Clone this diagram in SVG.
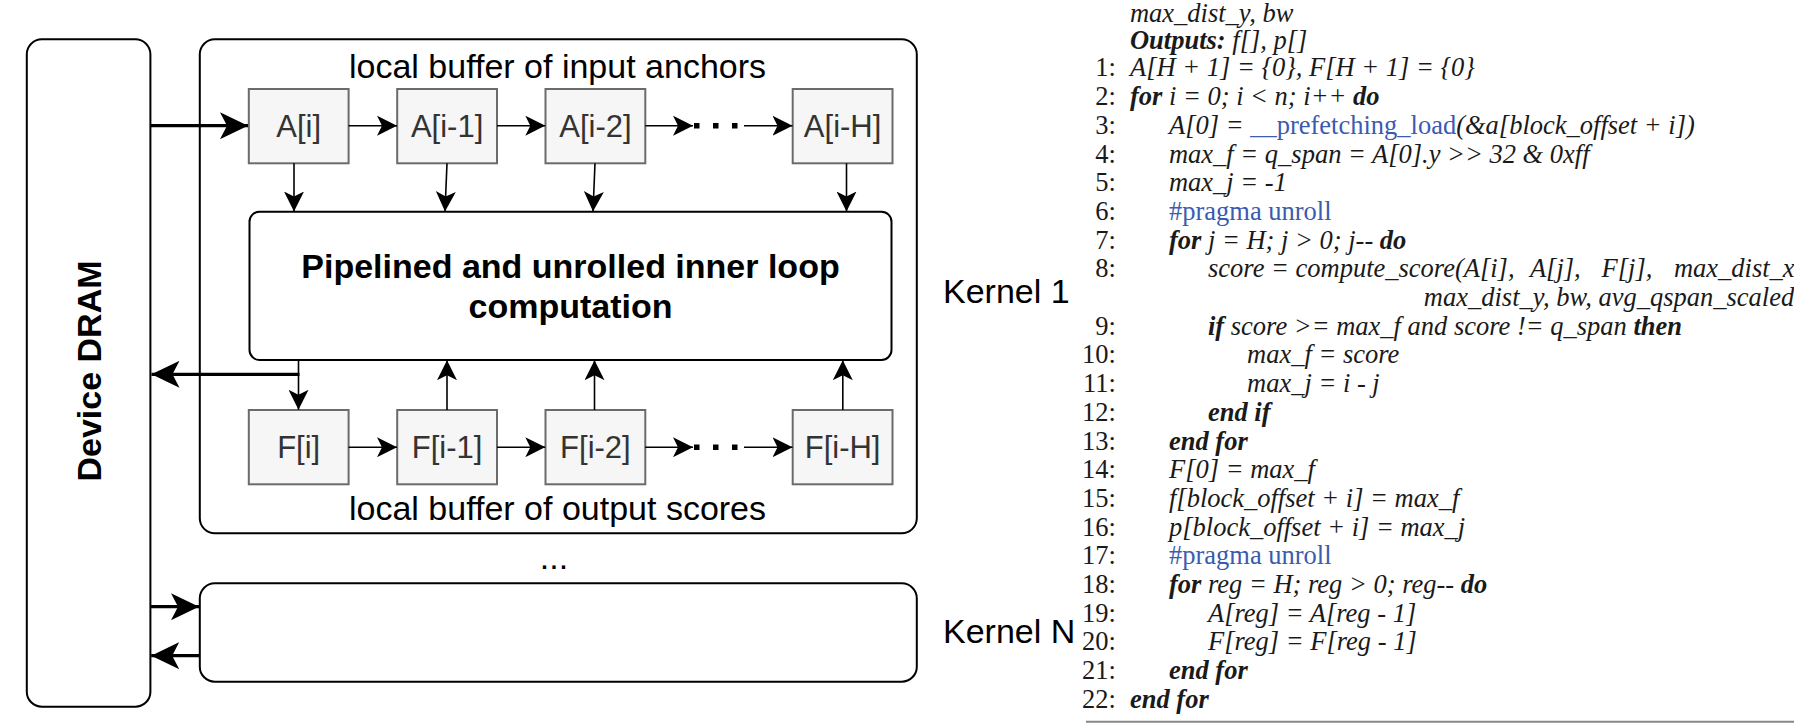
<svg xmlns="http://www.w3.org/2000/svg" width="1794" height="728" viewBox="0 0 1794 728">
<style>
.frame{fill:#fff;stroke:#000;stroke-width:2}
.cell{fill:#f5f6f5;stroke:#6b6b6b;stroke-width:2}
.lbl{font-family:"Liberation Sans",Arial,sans-serif;fill:#333;font-size:31px;text-anchor:middle}
.big{font-family:"Liberation Sans",Arial,sans-serif;fill:#000;font-size:34px}
.bold{font-weight:bold}
.thin{stroke:#000;stroke-width:1.6;fill:none}
.thick{stroke:#000;stroke-width:3.2;fill:none}
.alg{font-family:"Liberation Serif","Times New Roman",serif;font-size:27.5px;fill:#1a1a1a;font-style:italic}
.num{font-style:normal;text-anchor:end}
.kw{font-weight:bold}
.blue{fill:#3a5bb0;font-style:normal}
</style>
<defs>
<marker id="at" viewBox="0 0 20 20" refX="20" refY="10" markerWidth="20" markerHeight="20" orient="auto" markerUnits="userSpaceOnUse"><path d="M0,0 L20,10 L0,20 L5,10 z" fill="#000"/></marker>
<marker id="ak" viewBox="0 0 28 27" refX="28" refY="13.5" markerWidth="28" markerHeight="27" orient="auto" markerUnits="userSpaceOnUse"><path d="M0,0 L28,13.5 L0,27 L7,13.5 z" fill="#000"/></marker>
</defs>
<rect width="1794" height="728" fill="#fff"/>

<g id="dram">
<rect class="frame" x="26.8" y="39.3" width="123.6" height="667.4" rx="15"/>
<text class="big bold" transform="translate(100.5,371) rotate(-90)" text-anchor="middle">Device DRAM</text>
</g>

<g id="kernel1">
<rect class="frame" x="199.8" y="39.3" width="717" height="494" rx="15"/>
<text class="big" x="557.5" y="77.7" text-anchor="middle">local buffer of input anchors</text>
<text class="big" x="557.5" y="520" text-anchor="middle">local buffer of output scores</text>
</g>

<g id="compute">
<rect class="frame" x="249.5" y="211.7" width="642" height="148.3" rx="10"/>
<text class="big bold" x="570.5" y="278" text-anchor="middle">Pipelined and unrolled inner loop</text>
<text class="big bold" x="570.5" y="318" text-anchor="middle">computation</text>
</g>

<g id="A0"><rect class="cell" x="248.8" y="89" width="99.8" height="74.3"/><text class="lbl" x="298.7" y="137">A[i]</text></g>
<g id="A1"><rect class="cell" x="397.2" y="89" width="99.8" height="74.3"/><text class="lbl" x="447.1" y="137">A[i-1]</text></g>
<g id="A2"><rect class="cell" x="545.5" y="89" width="99.8" height="74.3"/><text class="lbl" x="595.4" y="137">A[i-2]</text></g>
<g id="AH"><rect class="cell" x="792.7" y="89" width="99.8" height="74.3"/><text class="lbl" x="842.6" y="137">A[i-H]</text></g>

<g id="F0"><rect class="cell" x="248.8" y="410" width="99.8" height="74.3"/><text class="lbl" x="298.7" y="458">F[i]</text></g>
<g id="F1"><rect class="cell" x="397.2" y="410" width="99.8" height="74.3"/><text class="lbl" x="447.1" y="458">F[i-1]</text></g>
<g id="F2"><rect class="cell" x="545.5" y="410" width="99.8" height="74.3"/><text class="lbl" x="595.4" y="458">F[i-2]</text></g>
<g id="FH"><rect class="cell" x="792.7" y="410" width="99.8" height="74.3"/><text class="lbl" x="842.6" y="458">F[i-H]</text></g>

<g id="kernelN">
<rect class="frame" x="199.8" y="583.3" width="717" height="98.4" rx="15"/>
</g>

<g id="labels">
<text class="big" x="943" y="303" font-size="33">Kernel 1</text>
<text class="big" x="943" y="643" font-size="33">Kernel N</text>
<text class="big" x="554" y="569" text-anchor="middle" font-size="30">...</text>
</g>

<g id="connectors">
<line class="thick" x1="150.4" y1="125.7" x2="248" y2="125.7" marker-end="url(#ak)"/>
<line class="thin" x1="348.6" y1="125.7" x2="397" y2="125.7" marker-end="url(#at)"/>
<line class="thin" x1="497" y1="125.7" x2="545.3" y2="125.7" marker-end="url(#at)"/>
<line class="thin" x1="645.3" y1="125.7" x2="693" y2="125.7" marker-end="url(#at)"/>
<line class="thin" x1="744" y1="125.7" x2="792.5" y2="125.7" marker-end="url(#at)"/>
<line class="thin" x1="348.6" y1="447.2" x2="397" y2="447.2" marker-end="url(#at)"/>
<line class="thin" x1="497" y1="447.2" x2="545.3" y2="447.2" marker-end="url(#at)"/>
<line class="thin" x1="645.3" y1="447.2" x2="693" y2="447.2" marker-end="url(#at)"/>
<line class="thin" x1="744" y1="447.2" x2="792.5" y2="447.2" marker-end="url(#at)"/>
<g fill="#000">
<rect x="694" y="123" width="5.5" height="5.5"/><rect x="713" y="123" width="5.5" height="5.5"/><rect x="732" y="123" width="5.5" height="5.5"/>
<rect x="694" y="444.5" width="5.5" height="5.5"/><rect x="713" y="444.5" width="5.5" height="5.5"/><rect x="732" y="444.5" width="5.5" height="5.5"/>
</g>
<line class="thin" x1="294" y1="163.3" x2="294" y2="211.5" marker-end="url(#at)"/>
<line class="thin" x1="447" y1="163.3" x2="445" y2="211.5" marker-end="url(#at)"/>
<line class="thin" x1="595" y1="163.3" x2="593" y2="211.5" marker-end="url(#at)"/>
<line class="thin" x1="846.5" y1="163.3" x2="846.5" y2="211.5" marker-end="url(#at)"/>
<line class="thin" x1="298.5" y1="360" x2="298.5" y2="409.8" marker-end="url(#at)"/>
<line class="thick" x1="299.5" y1="374.3" x2="151.5" y2="374.3" marker-end="url(#ak)"/>
<line class="thin" x1="447" y1="410" x2="447" y2="360.2" marker-end="url(#at)"/>
<line class="thin" x1="594.5" y1="410" x2="594.5" y2="360.2" marker-end="url(#at)"/>
<line class="thin" x1="842.8" y1="410" x2="842.8" y2="360.2" marker-end="url(#at)"/>
<line class="thick" x1="150.4" y1="606.7" x2="199" y2="606.7" marker-end="url(#ak)"/>
<line class="thick" x1="199.8" y1="655.7" x2="151.2" y2="655.7" marker-end="url(#ak)"/>
</g>

<g id="algorithm" class="alg" transform="matrix(0.9636,0,0,1,40.6,0)">
<text x="1130.5" y="22">max_dist_y, bw</text>
<text x="1130.5" y="49"><tspan class="kw">Outputs:</tspan> f[], p[]</text>
<text class="num" x="1116" y="76.5">1:</text><text x="1130.5" y="76.5">A[H + 1] = {0}, F[H + 1] = {0}</text>
<text class="num" x="1116" y="105.2">2:</text><text x="1130.5" y="105.2"><tspan class="kw">for</tspan> i = 0; i &lt; n; i++ <tspan class="kw">do</tspan></text>
<text class="num" x="1116" y="133.9">3:</text><text x="1171" y="133.9">A[0] = <tspan class="blue">__prefetching_load</tspan>(&amp;a[block_offset + i])</text>
<text class="num" x="1116" y="162.6">4:</text><text x="1171" y="162.6">max_f = q_span = A[0].y &gt;&gt; 32 &amp; 0xff</text>
<text class="num" x="1116" y="191.3">5:</text><text x="1171" y="191.3">max_j = -1</text>
<text class="num" x="1116" y="220">6:</text><text x="1171" y="220" class="blue">#pragma unroll</text>
<text class="num" x="1116" y="248.7">7:</text><text x="1171" y="248.7"><tspan class="kw">for</tspan> j = H; j &gt; 0; j-- <tspan class="kw">do</tspan></text>
<text class="num" x="1116" y="277.4">8:</text><text x="1211.5" y="277.4">score = compute_score(A[i],<tspan x="1545.6">A[j],</tspan><tspan x="1620">F[j],</tspan><tspan x="1695">max_dist_x</tspan></text>
<text x="1435.5" y="306.1">max_dist_y, bw, avg_qspan_scaled</text>
<text class="num" x="1116" y="334.8">9:</text><text x="1211.5" y="334.8"><tspan class="kw">if</tspan> score &gt;= max_f and score != q_span <tspan class="kw">then</tspan></text>
<text class="num" x="1116" y="363.5">10:</text><text x="1252" y="363.5">max_f = score</text>
<text class="num" x="1116" y="392.2">11:</text><text x="1252" y="392.2">max_j = i - j</text>
<text class="num" x="1116" y="420.9">12:</text><text x="1211.5" y="420.9" class="kw">end if</text>
<text class="num" x="1116" y="449.6">13:</text><text x="1171" y="449.6" class="kw">end for</text>
<text class="num" x="1116" y="478.3">14:</text><text x="1171" y="478.3">F[0] = max_f</text>
<text class="num" x="1116" y="507">15:</text><text x="1171" y="507">f[block_offset + i] = max_f</text>
<text class="num" x="1116" y="535.7">16:</text><text x="1171" y="535.7">p[block_offset + i] = max_j</text>
<text class="num" x="1116" y="564.4">17:</text><text x="1171" y="564.4" class="blue">#pragma unroll</text>
<text class="num" x="1116" y="593.1">18:</text><text x="1171" y="593.1"><tspan class="kw">for</tspan> reg = H; reg &gt; 0; reg-- <tspan class="kw">do</tspan></text>
<text class="num" x="1116" y="621.8">19:</text><text x="1211.5" y="621.8">A[reg] = A[reg - 1]</text>
<text class="num" x="1116" y="650.5">20:</text><text x="1211.5" y="650.5">F[reg] = F[reg - 1]</text>
<text class="num" x="1116" y="679.2">21:</text><text x="1171" y="679.2" class="kw">end for</text>
<text class="num" x="1116" y="707.9">22:</text><text x="1130.5" y="707.9" class="kw">end for</text>
</g>
<line x1="1086" y1="721.7" x2="1794" y2="721.7" stroke="#888" stroke-width="2"/>
</svg>
